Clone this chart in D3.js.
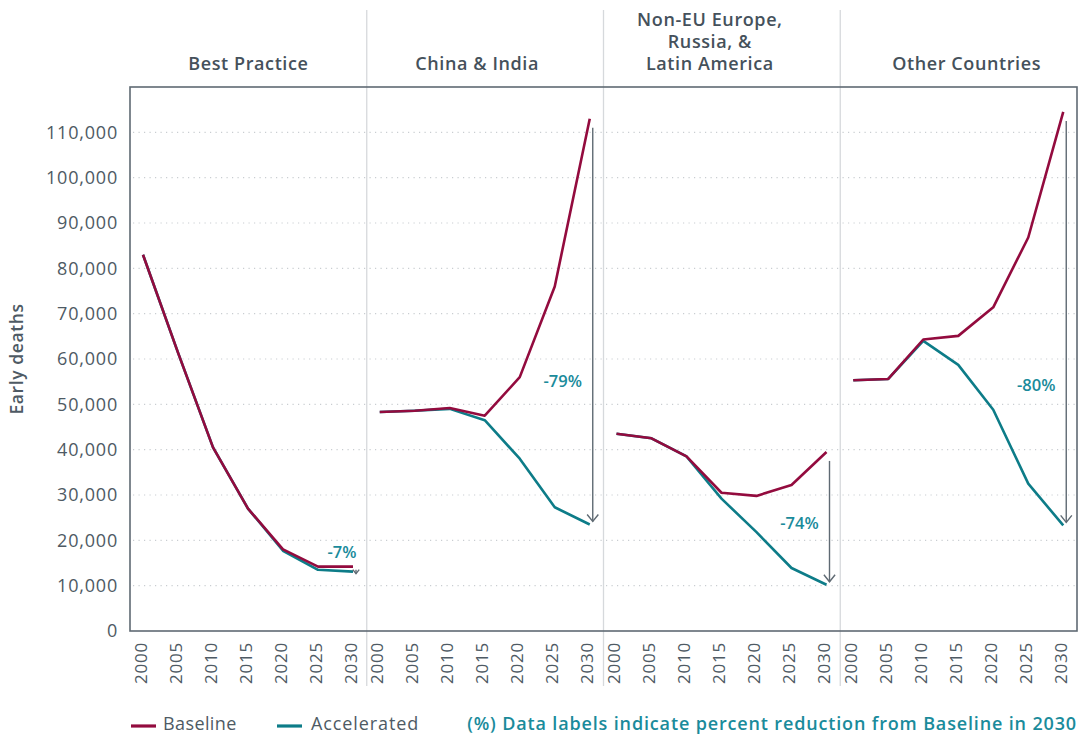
<!DOCTYPE html>
<html><head><meta charset="utf-8">
<script src="https://cdn.jsdelivr.net/npm/d3@7"></script>
<style>
html,body{margin:0;padding:0;background:#fff;}
svg{display:block;font-family:"Open Sans",sans-serif;}
</style></head>
<body><svg id="c" width="1082" height="735"></svg>
<script>
const years = [2000, 2005, 2010, 2015, 2020, 2025, 2030];
const panels = ["Best Practice", "China & India", "Non-EU Europe,\nRussia, &\nLatin America", "Other Countries"];
const baseline = [
  [83000, 61400, 40500, 27000, 18000, 14200, 14200],
  [48300, 48600, 49200, 47500, 56000, 76000, 113000],
  [43500, 42500, 38500, 30500, 29800, 32200, 39500],
  [55300, 55600, 64300, 65100, 71400, 86800, 114500]
];
const accelerated = [
  [83000, 61400, 40500, 27000, 17700, 13500, 13100],
  [48300, 48600, 49000, 46500, 38000, 27300, 23500],
  [43500, 42500, 38500, 29200, 21800, 13900, 10200],
  [55300, 55600, 64000, 58700, 48800, 32500, 23300]
];
const reductionLabels = ["-7%", "-79%", "-74%", "-80%"];
const labelValues = [17300, 55200, 23800, 54300];
const yTicks = [0, 10000, 20000, 30000, 40000, 50000, 60000, 70000, 80000, 90000, 100000, 110000];

const svg = d3.select("#c");
const L = 130, R = 1077, T = 87, B = 631;
const pw = (R - L) / 4;
const titleShift = [0, -8, -12, 8];
const cBase = "#930b3e", cAcc = "#0d7c88", cLab = "#1a8b9b", cText = "#4e5a64", cAxis = "#5f6a73";

const y = d3.scaleLinear().domain([0, 120000]).range([B, T]);

// grid
svg.append("g").selectAll("line").data(yTicks.filter(d => d > 0)).join("line")
  .attr("x1", L + 3).attr("x2", R).attr("y1", d => y(d)).attr("y2", d => y(d))
  .attr("stroke", "#c9cdd1").attr("stroke-width", 1.2).attr("stroke-dasharray", "1.2,4.3");

// panel separators
svg.append("g").selectAll("line").data([1, 2, 3]).join("line")
  .attr("x1", d => L + d * pw).attr("x2", d => L + d * pw).attr("y1", 10).attr("y2", 686)
  .attr("stroke", "#d6d9dc").attr("stroke-width", 1.3);

// y axis
const ya = svg.append("g").attr("transform", `translate(${L},0)`)
  .call(d3.axisLeft(y).tickValues(yTicks).tickFormat(d3.format(",")).tickSize(0).tickPadding(12));
ya.select(".domain").remove();
ya.selectAll("text").attr("font-size", 18).attr("fill", cText).attr("font-family", "Open Sans").attr("letter-spacing", 0.8);

svg.append("text").attr("transform", `translate(23,${(T + B) / 2}) rotate(-90)`)
  .attr("text-anchor", "middle").attr("font-size", 17.5).attr("font-weight", 600).attr("fill", cText)
  .attr("letter-spacing", 0.6).text("Early deaths");

const line = (x) => d3.line().x((d, i) => x(years[i])).y(d => y(d));

panels.forEach((name, p) => {
  const p0 = L + p * pw;
  const x = d3.scalePoint().domain(years).range([p0 + 13, p0 + 223]);
  const g = svg.append("g");
  // x axis labels
  const xa = g.append("g").attr("transform", `translate(-3,${B})`)
    .call(d3.axisBottom(x).tickSize(0).tickPadding(0));
  xa.select(".domain").remove();
  xa.selectAll("text").attr("font-size", 17).attr("fill", cText).attr("font-family", "Open Sans")
    .attr("letter-spacing", 0.8)
    .attr("transform", "rotate(-90)").attr("text-anchor", "end").attr("x", -11).attr("y", 0).attr("dy", "0.36em");
  // title
  const lines = name.split("\n");
  const t = g.append("text").attr("text-anchor", "middle").attr("font-size", 18).attr("font-weight", 600)
    .attr("fill", "#45515b").attr("letter-spacing", 0.6);
  lines.forEach((s, i) => {
    t.append("tspan").attr("x", p0 + pw / 2 + titleShift[p]).attr("y", 70 - (lines.length - 1 - i) * 22).text(s);
  });
  // series
  g.append("path").attr("d", line(x)(accelerated[p])).attr("fill", "none").attr("stroke", cAcc).attr("stroke-width", 2.6).attr("stroke-linejoin", "round");
  g.append("path").attr("d", line(x)(baseline[p])).attr("fill", "none").attr("stroke", cBase).attr("stroke-width", 2.6).attr("stroke-linejoin", "round");
  // arrow
  const ax = x(2030) + 3;
  const yb = y(baseline[p][6]), ye = y(accelerated[p][6]);
  const y1 = p === 0 ? yb + 3 : yb + 9, y2 = p === 0 ? ye + 2 : ye - 3;
  g.append("line").attr("x1", ax).attr("x2", ax).attr("y1", y1).attr("y2", y2).attr("stroke", cAxis).attr("stroke-width", 1.4);
  const ah = p === 0 ? 4 : 7;
  g.append("path").attr("d", `M${ax - ah * 0.8},${y2 - ah}L${ax},${y2}L${ax + ah * 0.8},${y2 - ah}`)
    .attr("fill", "none").attr("stroke", cAxis).attr("stroke-width", 1.4);
  // label
  g.append("text").attr("x", p === 0 ? x(2030) - 11 : x(2030) - 27).attr("y", y(labelValues[p]))
    .attr("dy", "0.35em").attr("text-anchor", "middle").attr("font-size", 16.5).attr("font-weight", 600)
    .attr("fill", cLab).text(reductionLabels[p]);
});

// plot border
svg.append("rect").attr("x", L).attr("y", T).attr("width", R - L).attr("height", B - T)
  .attr("fill", "none").attr("stroke", cAxis).attr("stroke-width", 1.6);

// legend
const lg = svg.append("g");
const ly = 724;
[["Baseline", cBase, 131, 163, 0.4], ["Accelerated", cAcc, 277, 311, 0.9]].forEach(([t, c, x0, tx, ls]) => {
  lg.append("line").attr("x1", x0).attr("x2", x0 + 25).attr("y1", ly + 2).attr("y2", ly + 2).attr("stroke", c).attr("stroke-width", 3.2);
  lg.append("text").attr("x", tx).attr("y", ly).attr("dy", "0.35em").attr("font-size", 18).attr("fill", cText).attr("letter-spacing", ls).text(t);
});
lg.append("text").attr("x", 1077).attr("y", ly).attr("dy", "0.35em").attr("text-anchor", "end")
  .attr("font-size", 18).attr("font-weight", 600).attr("fill", cLab).attr("letter-spacing", 0.85)
  .text("(%) Data labels indicate percent reduction from Baseline in 2030");
</script></body></html>
